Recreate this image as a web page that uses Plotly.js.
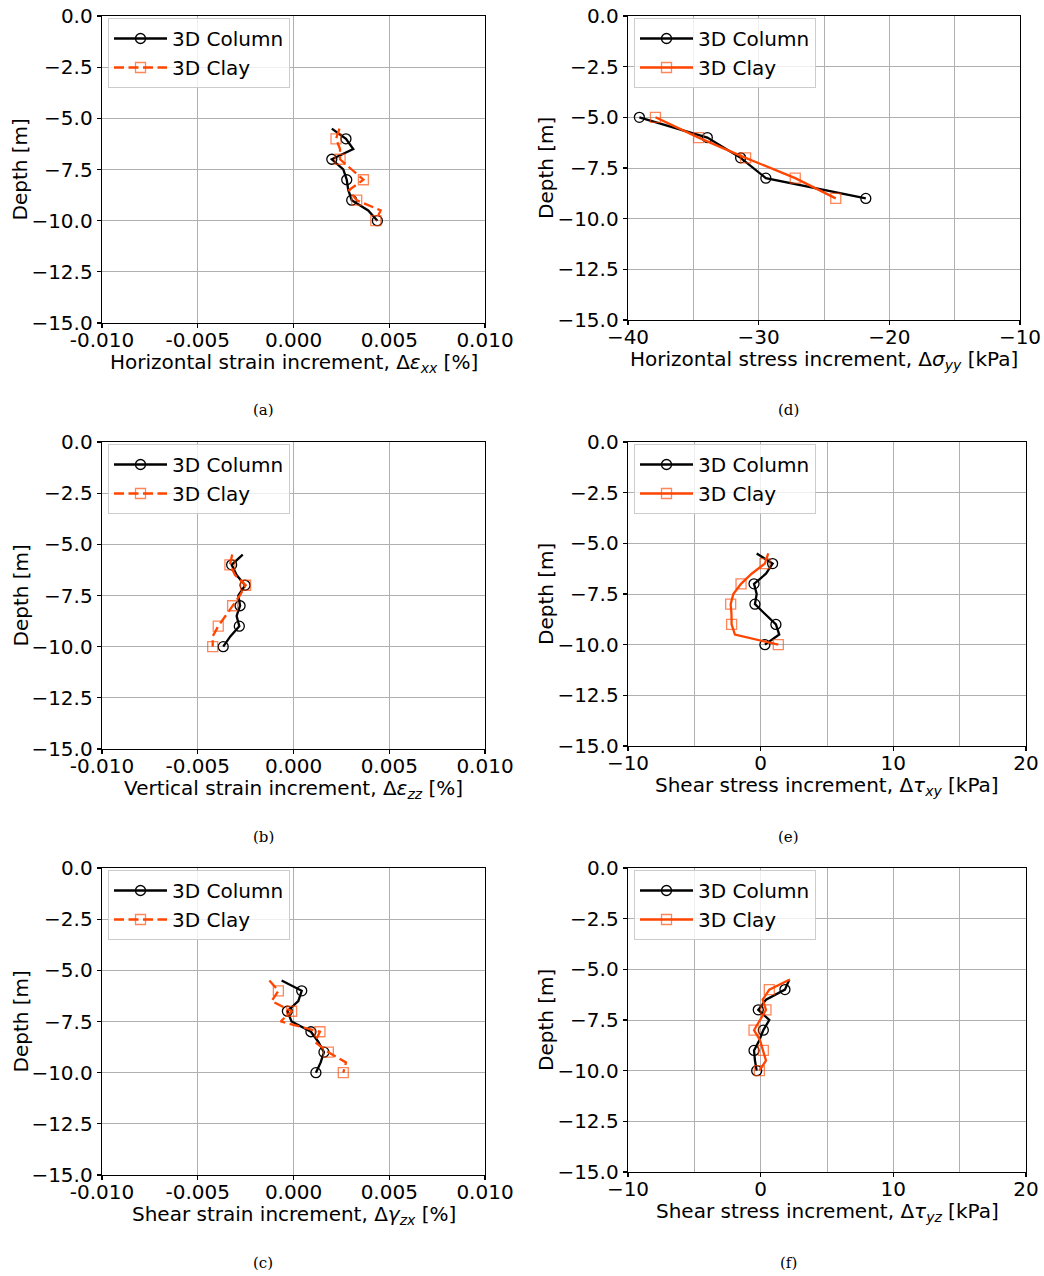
<!DOCTYPE html>
<html>
<head>
<meta charset="utf-8">
<script src="https://cdn.plot.ly/plotly-3.0.1.min.js"></script>
<style>html,body{margin:0;padding:0;background:#fff;} #chart{width:1044px;height:1276px;}</style>
</head>
<body>
<div id="chart"></div>
<script>
// ---------------- DATA ----------------
const depthFine = [-5.5, -6, -6.5, -7, -7.5, -8, -8.5, -9, -9.5, -10];
const depthStress = [-5, -6, -7, -8, -9];

// (a) Horizontal strain increment [%]
const columnExx = [0.0020, 0.00274, 0.00312, 0.0020, 0.0026, 0.00278, 0.00286, 0.00304, 0.0039, 0.00438];
const clayExx   = [0.0024, 0.00222, 0.00243, 0.00243, 0.00304, 0.00365, 0.0029, 0.0033, 0.00455, 0.0043];
// (b) Vertical strain increment [%]
const columnEzz = [-0.00265, -0.00323, -0.00297, -0.00253, -0.00288, -0.00279, -0.00297, -0.00283, -0.0033, -0.00367];
const clayEzz   = [-0.0032, -0.00332, -0.00305, -0.0025, -0.0028, -0.00318, -0.00358, -0.00393, -0.00422, -0.00422];
// (c) Shear strain increment [%]
const columnGzx = [-0.00062, 0.00043, 0.00025, -0.00032, -0.0001, 0.00091, 0.0013, 0.00159, 0.00142, 0.00117];
const clayGzx   = [-0.00126, -0.00079, -0.00114, -0.0001, -0.00067, 0.00138, 0.00112, 0.00182, 0.00274, 0.0026];
// (d) Horizontal stress increment [kPa]
const columnSyy = [-39.13, -33.93, -31.38, -29.45, -21.8];
const claySyy   = [-37.9, -34.6, -31.0, -27.2, -24.1];
// (e) Shear stress increment txy [kPa]
const columnTxy = [-0.3, 0.9, 0.4, -0.5, -0.3, -0.43, 0.35, 1.15, 1.4, 0.32];
const clayTxy   = [0.57, 0.32, -0.68, -1.48, -2.06, -2.26, -2.2, -2.19, -1.94, 1.33];
// (f) Shear stress increment tyz [kPa]
const columnTyz = [2.16, 1.83, 0.4, -0.18, 0.65, 0.2, -0.1, -0.5, -0.43, -0.3];
const clayTyz   = [2.2, 0.65, 0.15, 0.4, -0.05, -0.5, -0.05, 0.2, 0.4, -0.1];

const seriesNames = ['3D Column', '3D Clay'];
const strainTickVals = [-0.01, -0.005, 0, 0.005, 0.01];
const strainTickText = ['-0.010', '-0.005', '0.000', '0.005', '0.010'];
const depthTicks = [0, -2.5, -5, -7.5, -10, -12.5, -15];
const captions = ['(a)', '(d)', '(b)', '(e)', '(c)', '(f)'];
const xTitles = [
  'Horizontal strain increment, Δ<i>ε<sub>xx</sub></i> [%]',
  'Horizontal stress increment, Δ<i>σ<sub>yy</sub></i> [kPa]',
  'Vertical strain increment, Δ<i>ε<sub>zz</sub></i> [%]',
  'Shear stress increment, Δ<i>τ<sub>xy</sub></i> [kPa]',
  'Shear strain increment, Δ<i>γ<sub>zx</sub></i> [%]',
  'Shear stress increment, Δ<i>τ<sub>yz</sub></i> [kPa]'
];
const yTitle = 'Depth [m]';

// ---------------- LAYOUT HELPERS ----------------
const W = 1044, H = 1276;
const px = v => v / W;
const py = v => 1 - v / H;

const panels = [
  {box: [102, 485, 16, 323],  depth: depthFine,   col: columnExx, clay: clayExx, strain: true,  cap: [263, 410]},
  {box: [628, 1020, 16, 320], depth: depthStress, col: columnSyy, clay: claySyy, strain: false, range: [-40, -10], cap: [788, 410]},
  {box: [102, 485, 442, 749], depth: depthFine,   col: columnEzz, clay: clayEzz, strain: true,  cap: [263, 837]},
  {box: [628, 1026, 442, 746], depth: depthFine,  col: columnTxy, clay: clayTxy, strain: false, range: [-10, 20], cap: [788, 837]},
  {box: [102, 485, 868, 1175], depth: depthFine,  col: columnGzx, clay: clayGzx, strain: true,  cap: [263, 1263]},
  {box: [628, 1026, 868, 1172], depth: depthFine, col: columnTyz, clay: clayTyz, strain: false, range: [-10, 20], cap: [788, 1263]}
];

const FONT = 'DejaVu Sans';
const FS = 20;
const CLAY = '#ff4500';
const CLAY_MK = 'rgba(255,69,0,0.65)';

const traces = [];
const layout = {
  width: W, height: H,
  margin: {l: 0, r: 0, t: 0, b: 0},
  paper_bgcolor: '#ffffff', plot_bgcolor: '#ffffff',
  font: {family: FONT, size: FS, color: '#000'},
  showlegend: true,
  annotations: []
};

const isMarkerDepth = d => Number.isInteger(d);

panels.forEach((p, i) => {
  const n = i + 1;
  const xa = 'x' + (n === 1 ? '' : n), ya = 'y' + (n === 1 ? '' : n);
  const legendId = 'legend' + (n === 1 ? '' : n);
  const [x0, x1, y0, y1] = p.box;

  const markIdx = p.depth.map((d, k) => isMarkerDepth(d) ? k : -1).filter(k => k >= 0);
  const clayDash = p.strain ? '10px,4.5px' : 'solid';

  const colLine = {color: '#000', width: 2.3};
  const colMarker = {symbol: 'circle-open', size: 10, color: '#000', line: {width: 1.3, color: '#000'}};
  const clayLine = {color: CLAY, width: 2.3, dash: clayDash};
  const clayMarker = {symbol: 'square-open', size: 10, color: CLAY_MK, line: {width: 1.3, color: CLAY_MK}};

  // Column
  traces.push({x: p.col, y: p.depth, xaxis: xa, yaxis: ya, mode: 'lines', line: colLine, showlegend: false, hoverinfo: 'skip'});
  traces.push({x: markIdx.map(k => p.col[k]), y: markIdx.map(k => p.depth[k]), xaxis: xa, yaxis: ya, mode: 'markers', marker: colMarker, showlegend: false});
  // Clay
  traces.push({x: p.clay, y: p.depth, xaxis: xa, yaxis: ya, mode: 'lines', line: clayLine, showlegend: false, hoverinfo: 'skip'});
  traces.push({x: markIdx.map(k => p.clay[k]), y: markIdx.map(k => p.depth[k]), xaxis: xa, yaxis: ya, mode: 'markers', marker: clayMarker, showlegend: false});
  // Legend entries
  traces.push({x: [null], y: [null], xaxis: xa, yaxis: ya, mode: 'lines+markers', name: seriesNames[0], line: colLine, marker: colMarker, legend: legendId});
  traces.push({x: [null], y: [null], xaxis: xa, yaxis: ya, mode: 'lines+markers', name: seriesNames[1], line: clayLine, marker: clayMarker, legend: legendId});

  const common = {
    showline: true, linecolor: '#000', linewidth: 1.3, mirror: true,
    ticks: 'outside', ticklen: 4, tickwidth: 1.3, tickcolor: '#000',
    showgrid: true, gridcolor: '#b0b0b0', gridwidth: 1, zeroline: false,
    tickfont: {family: FONT, size: FS, color: '#000'}
  };
  const xaxis = Object.assign({}, common, {domain: [px(x0), px(x1)], anchor: ya, ticklabelstandoff: -5});
  if (p.strain) {
    Object.assign(xaxis, {range: [-0.01, 0.01], tickmode: 'array', tickvals: strainTickVals, ticktext: strainTickText});
  } else {
    Object.assign(xaxis, {range: p.range, tickmode: 'linear', tick0: p.range[0], dtick: 10,
      minor: {dtick: 5, showgrid: true, gridcolor: '#b0b0b0', gridwidth: 1, ticks: ''}});
  }
  const yaxis = Object.assign({}, common, {domain: [py(y1), py(y0)], anchor: xa, range: [-15, 0],
    tickmode: 'array', tickvals: depthTicks, tickformat: '.1f'});
  layout['xaxis' + (n === 1 ? '' : n)] = xaxis;
  layout['yaxis' + (n === 1 ? '' : n)] = yaxis;

  layout[legendId] = {
    x: px(x0 + 6), y: py(y0 + 2), xanchor: 'left', yanchor: 'top', xref: 'paper', yref: 'paper',
    bgcolor: 'rgba(255,255,255,0.8)', bordercolor: '#cccccc', borderwidth: 1, itemwidth: 53,
    font: {family: FONT, size: FS, color: '#000'}, tracegroupgap: 0
  };

  // axis titles
  layout.annotations.push({text: xTitles[i], x: px((x0 + x1) / 2), y: py(y1 + 40), xref: 'paper', yref: 'paper',
    xanchor: 'center', yanchor: 'middle', showarrow: false, font: {family: FONT, size: FS, color: '#000'}});
  layout.annotations.push({text: yTitle, x: px(x0 - 82), y: py((y0 + y1) / 2), xref: 'paper', yref: 'paper',
    xanchor: 'center', yanchor: 'middle', textangle: -90, showarrow: false, font: {family: FONT, size: FS, color: '#000'}});
  // caption
  layout.annotations.push({text: captions[i], x: px(p.cap[0]), y: py(p.cap[1]), xref: 'paper', yref: 'paper',
    xanchor: 'center', yanchor: 'middle', showarrow: false, font: {family: 'DejaVu Serif', size: 15, color: '#000'}});
});

Plotly.newPlot('chart', traces, layout, {displayModeBar: false, staticPlot: true});
</script>
</body>
</html>
